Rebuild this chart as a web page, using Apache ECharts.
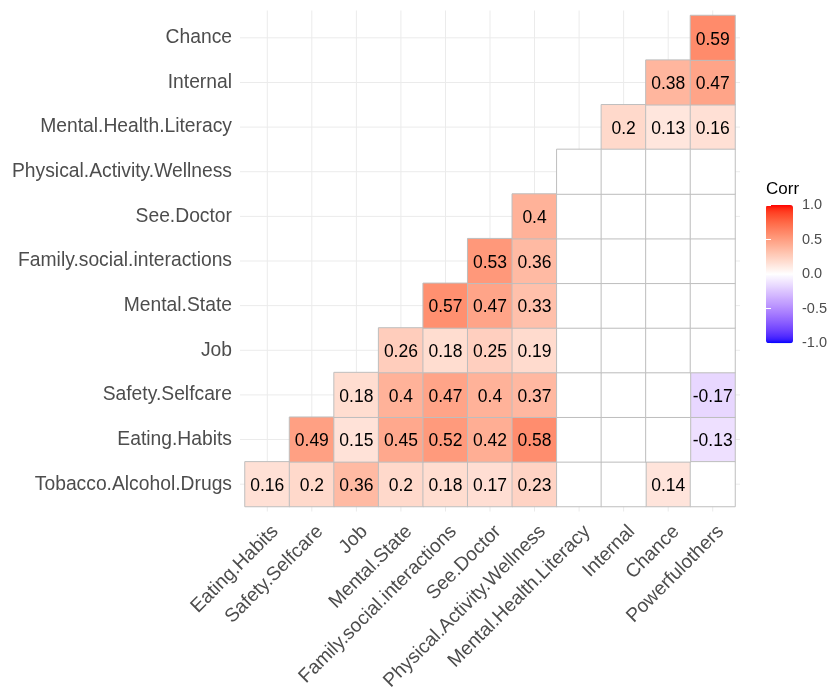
<!DOCTYPE html>
<html>
<head>
<meta charset="utf-8">
<script src="https://cdn.jsdelivr.net/npm/echarts@6/dist/echarts.min.js"></script>
<style>html,body{margin:0;padding:0;background:#fff;}#chart{width:828px;height:688px;}</style>
</head>
<body>
<div id="chart"></div>
<script>
// ---- data ----
const xCats = ['Eating.Habits','Safety.Selfcare','Job','Mental.State','Family.social.interactions','See.Doctor','Physical.Activity.Wellness','Mental.Health.Literacy','Internal','Chance','Powerfulothers'];
const yCats = ['Tobacco.Alcohol.Drugs','Eating.Habits','Safety.Selfcare','Job','Mental.State','Family.social.interactions','See.Doctor','Physical.Activity.Wellness','Mental.Health.Literacy','Internal','Chance'];
// each row starts at the column with the same index as the row; null = non-significant (blank) cell
const rowTobacco   = [0.16, 0.2, 0.36, 0.2, 0.18, 0.17, 0.23, null, null, 0.14, null];
const rowEating    = [0.49, 0.15, 0.45, 0.52, 0.42, 0.58, null, null, null, -0.13];
const rowSafety    = [0.18, 0.4, 0.47, 0.4, 0.37, null, null, null, -0.17];
const rowJob       = [0.26, 0.18, 0.25, 0.19, null, null, null, null];
const rowMental    = [0.57, 0.47, 0.33, null, null, null, null];
const rowFamily    = [0.53, 0.36, null, null, null, null];
const rowDoctor    = [0.4, null, null, null, null];
const rowPhysical  = [null, null, null, null];
const rowLiteracy  = [0.2, 0.13, 0.16];
const rowInternal  = [0.38, 0.47];
const rowChance    = [0.59];
const legendTicks = [-1, -0.5, 0, 0.5, 1];

const rows = [rowTobacco,rowEating,rowSafety,rowJob,rowMental,rowFamily,rowDoctor,rowPhysical,rowLiteracy,rowInternal,rowChance];
const sig = [], blank = [];
rows.forEach((r, yi) => r.forEach((v, k) => {
  const xi = yi + k;
  if (v === null) blank.push([xi, yi, 0]); else sig.push([xi, yi, v]);
}));

// ---- Lab colour interpolation (like ggplot's gradient2) ----
function lin(c){c/=255;return c<=0.04045?c/12.92:Math.pow((c+0.055)/1.055,2.4);}
function unlin(c){c=c<=0.0031308?12.92*c:1.055*Math.pow(c,1/2.4)-0.055;return Math.max(0,Math.min(255,Math.round(c*255)));}
function toLab(rgb){const R=lin(rgb[0]),G=lin(rgb[1]),B=lin(rgb[2]);
  const X=(0.4124*R+0.3576*G+0.1805*B)/0.95047,Y=0.2126*R+0.7152*G+0.0722*B,Z=(0.0193*R+0.1192*G+0.9505*B)/1.08883;
  const f=t=>t>0.008856?Math.cbrt(t):7.787*t+16/116;
  const fx=f(X),fy=f(Y),fz=f(Z);return [116*fy-16,500*(fx-fy),200*(fy-fz)];}
function fromLab(l){const fy=(l[0]+16)/116,fx=fy+l[1]/500,fz=fy-l[2]/200;
  const g=t=>t*t*t>0.008856?t*t*t:(t-16/116)/7.787;
  const X=g(fx)*0.95047,Y=g(fy),Z=g(fz)*1.08883;
  const R=3.2406*X-1.5372*Y-0.4986*Z,G=-0.9689*X+1.8758*Y+0.0415*Z,B=0.0557*X-0.2040*Y+1.0570*Z;
  return 'rgb('+unlin(R)+','+unlin(G)+','+unlin(B)+')';}
const labBlue=toLab([0,0,255]),labWhite=toLab([255,255,255]),labRed=toLab([255,0,0]);
const mix=(a,b,t)=>a.map((v,i)=>v+(b[i]-v)*t);
const stops=[];
for(let k=0;k<=40;k++){const v=-1+k/20;
  stops.push(v<0?fromLab(mix(labBlue,labWhite,v+1)):fromLab(mix(labWhite,labRed,v)));}

const FONT='"Liberation Sans", Arial, sans-serif';
const chart = echarts.init(document.getElementById('chart'));
chart.setOption({
  backgroundColor:'#fff',
  animation:false,
  textStyle:{fontFamily:FONT},
  grid:[
    {left:245, top:15.5, width:490, height:491, containLabel:false, outerBoundsMode:'none'},
    {left:766, top:205, width:27, height:138.3, containLabel:false, outerBoundsMode:'none'}
  ],
  xAxis:[
    {type:'category', data:xCats, gridIndex:0,
     axisLine:{show:false}, axisTick:{show:false}, splitLine:{show:false},
     axisLabel:{interval:0, rotate:45, margin:14, verticalAlign:'top', padding:[2,0,0,0], fontSize:19.3, color:'#4D4D4D', fontFamily:FONT}},
    {type:'value', gridIndex:1, min:0, max:1, show:false}
  ],
  yAxis:[
    {type:'category', data:yCats, gridIndex:0,
     axisLine:{show:false}, axisTick:{show:false}, splitLine:{show:false},
     axisLabel:{interval:0, margin:13, padding:[5,0,0,0], fontSize:19.3, color:'#4D4D4D', fontFamily:FONT}},
    {type:'value', gridIndex:1, min:legendTicks[0], max:legendTicks[legendTicks.length-1], interval:0.5, position:'right', z:10,
     axisLine:{show:false}, splitLine:{show:false},
     axisTick:{show:true, inside:true, length:5, lineStyle:{color:'#fff', width:1}},
     axisLabel:{margin:9, padding:[2,0,0,0], fontSize:14.5, color:'#4D4D4D', fontFamily:FONT, formatter:v=>v.toFixed(1)}},
    {type:'value', gridIndex:1, min:-1, max:1, interval:0.5, position:'left', z:10,
     axisLine:{show:false}, splitLine:{show:false}, axisLabel:{show:false},
     axisTick:{show:true, inside:true, length:5, lineStyle:{color:'#fff', width:1}}}
  ],
  visualMap:{type:'continuous', min:-1, max:1, seriesIndex:0, calculable:false,
    orient:'vertical', left:766, top:205, padding:0, itemWidth:27, itemHeight:138.3,
    inRange:{color:stops}, text:null, showLabel:false},
  graphic:[{type:'text', left:766, top:181, style:{text:'Corr', fontSize:17, fill:'#000', font:'17px '+FONT}}],
  series:[
    {type:'heatmap', xAxisIndex:0, yAxisIndex:0, data:sig, z:3,
     itemStyle:{borderColor:'#BEBEBE', borderWidth:1},
     label:{show:true, color:'#000', fontSize:17.5, fontFamily:FONT, offset:[0,2], formatter:p=>String(p.value[2])},
     emphasis:{disabled:true}},
    {type:'heatmap', xAxisIndex:0, yAxisIndex:0, data:blank, z:3,
     itemStyle:{color:'#fff', borderColor:'#BEBEBE', borderWidth:1},
     label:{show:false}, emphasis:{disabled:true}},
    {type:'custom', xAxisIndex:0, yAxisIndex:0, z:1, silent:true,
     data:xCats.map((c,i)=>[i,i]),
     renderItem:function(params, api){
       const cs=params.coordSys;
       const p=api.coord([api.value(0), api.value(1)]);
       const st={stroke:'#EBEBEB', lineWidth:1};
       return {type:'group', children:[
         {type:'line', shape:{x1:p[0], y1:cs.y-5, x2:p[0], y2:cs.y+cs.height+5}, style:st},
         {type:'line', shape:{x1:cs.x-5, y1:p[1], x2:cs.x+cs.width+5, y2:p[1]}, style:st}
       ]};
     }}
  ]
});
</script>
</body>
</html>
